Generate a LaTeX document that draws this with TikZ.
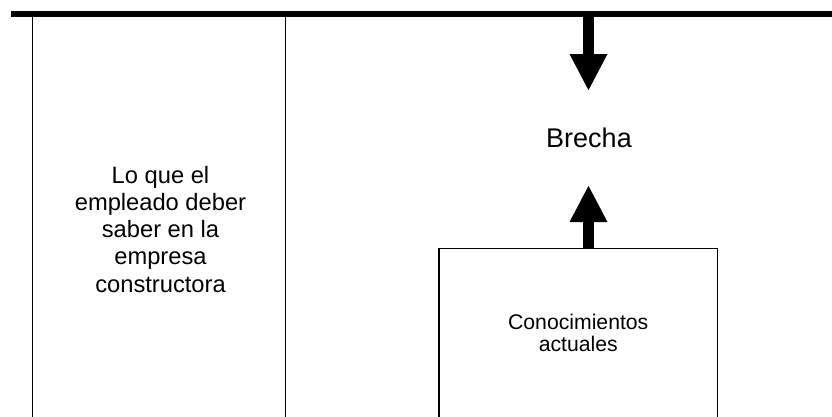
\documentclass[tikz,border=0pt]{standalone}
\usepackage{fontspec}
\setmainfont{Liberation Sans}
\usetikzlibrary{arrows.meta}
\begin{document}
\begin{tikzpicture}[x=1pt,y=-1pt,
  rule/.style={line width=1.5pt,line cap=rect},
  bigarrow/.style={line width=11.6pt,-{Triangle[width=35pt,length=37pt]}},
  lbl/.style={align=center,inner sep=0pt}]
  \useasboundingbox (0,0) rectangle (832,416);
  % frame lines
  \coordinate (tl) at (11,14);
  \coordinate (tr) at (834,14);
  \draw[line width=5.5pt] (tl) -- (tr);
  \coordinate (c1t) at (32.5,14);
  \coordinate (c1b) at (32.5,420);
  \coordinate (c2t) at (285.5,14);
  \coordinate (c2b) at (285.5,420);
  \draw[rule] (c1t) -- (c1b);
  \draw[rule] (c2t) -- (c2b);
  % column text (base anchor sits on the last line)
  \node[lbl,anchor=base,font=\fontsize{23.7}{27.25}\selectfont] (need) at (160.5,292)
    {Lo que el\\empleado deber\\saber en la\\empresa\\constructora};
  % gap label
  \node[lbl,anchor=base,font=\fontsize{27}{31}\selectfont] (gap) at (589,147) {Brecha};
  % current knowledge box
  \node[draw,line width=1.5pt,minimum width=278.4pt,minimum height=170pt,
        inner sep=0pt,anchor=north west,align=center,
        font=\fontsize{21.2}{22}\selectfont] (box) at (438.3,247.5)
    {Conocimientos\\actuales};
  % arrows
  \coordinate (dtop) at (588.5,14);
  \coordinate (dtip) at (588.5,91);
  \coordinate (utip) at (588.5,185);
  \draw[bigarrow] (dtop) -- (dtip);
  \draw[bigarrow] (box.north -| utip) -- (utip);
\end{tikzpicture}
\end{document}
